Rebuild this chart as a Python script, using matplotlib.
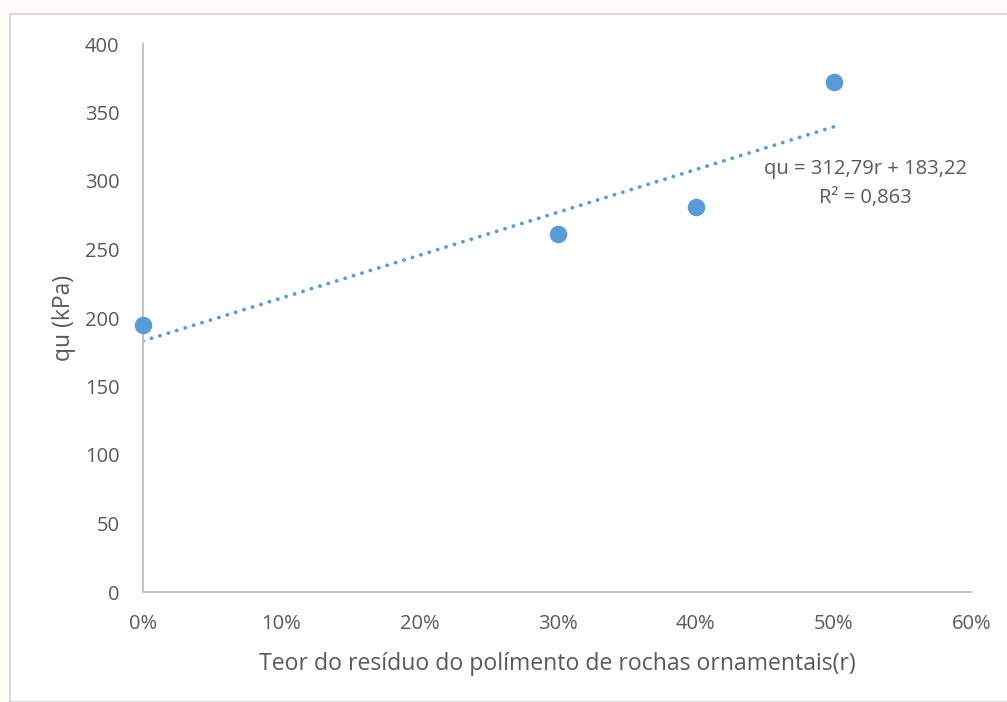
import numpy as np
import matplotlib
matplotlib.use("Agg")
import matplotlib.pyplot as plt
from matplotlib.patches import Rectangle

teor = [0.0, 0.3, 0.4, 0.5]
qu = [195, 261, 281, 372]
xticks = [0, 0.1, 0.2, 0.3, 0.4, 0.5, 0.6]
xticklabels = ["0%", "10%", "20%", "30%", "40%", "50%", "60%"]
yticks = [0, 50, 100, 150, 200, 250, 300, 350, 400]

a, b = 312.79, 183.22
cinza = "#595959"
azul = "#5B9BD5"

plt.rcParams['font.family'] = ['Open Sans', 'DejaVu Sans']

fig = plt.figure(figsize=(10.07, 7.02), dpi=100)
fig.patch.set_facecolor("#fdfcfa")
# moldura da área do gráfico (estilo Excel)
fig.patches.append(Rectangle((10/1007, 0), 1.2, 1 - 14/702, transform=fig.transFigure,
                             facecolor="white", edgecolor="#d9d9d9", linewidth=1.5, zorder=-10))

ax = fig.add_axes([143/1007, 1 - 592/702, (972 - 143)/1007, (592 - 44)/702])
ax.set_facecolor("none")

xl = np.array([0, 0.5])
ax.plot(xl, a*xl + b, linestyle=(0, (0.05, 2.3)), color=azul, linewidth=2.7,
        dash_capstyle="round", zorder=2)
ax.scatter(teor, qu, s=135, color=azul, zorder=3, clip_on=False)

ax.text(0.5226, 308.5, "qu = 312,79r + 183,22", ha="center", va="center", fontsize=14.5, color=cinza)
ax.text(0.5226, 287.5, "R² = 0,863", ha="center", va="center", fontsize=14.5, color=cinza)

ax.set_xlim(0, 0.6)
ax.set_ylim(0, 400)
ax.set_xticks(xticks)
ax.set_xticklabels(xticklabels)
ax.set_yticks(yticks)
ax.tick_params(length=0, labelsize=14.5, labelcolor=cinza)
ax.tick_params(axis="x", pad=16)
ax.tick_params(axis="y", pad=17)
for s in ["top", "right"]:
    ax.spines[s].set_visible(False)
for s in ["left", "bottom"]:
    ax.spines[s].set_color("#bfbfbf")
    ax.spines[s].set_linewidth(1.3)

ax.set_xlabel("Teor do resíduo do polímento de rochas ornamentais(r)", fontsize=16.6, color=cinza, labelpad=13)
ax.set_ylabel("qu (kPa)", fontsize=16.5, color=cinza, labelpad=6)

fig.savefig("out.png", dpi=100, facecolor=fig.get_facecolor())
